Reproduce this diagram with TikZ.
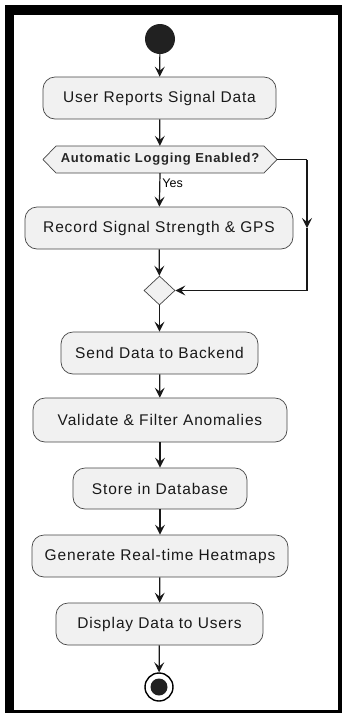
\documentclass[tikz,border=0pt]{standalone}
\usepackage{fontspec}
\setmainfont{Liberation Sans}
\newfontfamily\boxfont[LetterSpace=5.5]{Liberation Sans}
\newfontfamily\hexfont[LetterSpace=6]{Liberation Sans Bold}
\usetikzlibrary{arrows.meta,shapes.geometric}
\definecolor{linec}{HTML}{181818}
\definecolor{boxfill}{HTML}{F1F1F1}
\tikzset{
  act/.style={draw=linec!80, line width=0.7pt, fill=boxfill, rounded corners=12pt,
    minimum height=42pt, inner sep=0pt, font=\boxfont\fontsize{15.5}{19}\selectfont, text=black!90},
  flow/.style={draw=linec, line width=1.2pt, -{Stealth[length=10pt,width=10pt,inset=4pt]}},
  plainline/.style={draw=linec, line width=1.2pt},
  hexlabel/.style={font=\hexfont\fontsize{13}{15}\selectfont, text=black!85, inner sep=0pt},
}
\begin{document}
\begin{tikzpicture}[x=1pt,y=-1pt]
\useasboundingbox (0,0) rectangle (342,713);
\fill[black] (5,5) rectangle (342,713);
\fill[white] (14,15) rectangle (338,710);

\node[circle, fill=black!87, minimum size=30pt, inner sep=0pt] (start) at (160,39) {};
\node[act, minimum width=233pt] (n1) at (159.5,98) {User Reports Signal Data};
\path[draw=linec!80, line width=0.7pt, fill=boxfill]
  (43,159.5) -- (56,146) -- (264,146) -- (277,159.5) -- (264,173) -- (56,173) -- cycle;
\node[hexlabel, minimum width=234pt, minimum height=27pt] (hex) at (160,159.5) {Automatic Logging Enabled?};
\node[act, minimum width=268pt] (n2) at (159,228) {Record Signal Strength \& GPS};
\node[diamond, draw=linec!80, line width=0.7pt, fill=boxfill, minimum width=31pt, minimum height=29pt, inner sep=0pt] (merge) at (159.5,290.5) {};
\node[act, minimum width=197pt] (n3) at (159.5,353) {Send Data to Backend};
\node[act, minimum width=254pt, minimum height=44pt] (n4) at (160,420) {Validate \& Filter Anomalies};
\node[act, minimum width=174pt, minimum height=41pt] (n5) at (160,488.5) {Store in Database};
\node[act, minimum width=256pt] (n6) at (160,556) {Generate Real-time Heatmaps};
\node[act, minimum width=207pt] (n7) at (159.5,624) {Display Data to Users};
\node[circle, draw=black, line width=1.4pt, fill=white, minimum size=28pt, inner sep=0pt] (end) at (159,687) {};
\node[circle, fill=black!87, minimum size=17pt, inner sep=0pt] (endin) at (159,687) {};

\coordinate (rt) at (307,159.5);
\coordinate (rm) at (307,228);

\draw[flow] (start) -- (n1);
\draw[flow] (n1) -- (hex);
\draw[flow] (hex.south) -- node[right, pos=0.3, font=\fontsize{12.5}{14}\selectfont, inner sep=2pt] {Yes} (n2);
\draw[plainline] (hex.east) -- (rt);
\draw[flow] (rt) -- (rm);
\draw[flow] (rm) |- (merge.east);
\draw[flow] (n2) -- (merge);
\draw[flow] (merge) -- (n3);
\draw[flow] (n3) -- (n4);
\draw[flow] (n4) -- (n5);
\draw[flow] (n5) -- (n6);
\draw[flow] (n6) -- (n7);
\draw[flow] (n7) -- (end);
\end{tikzpicture}
\end{document}
